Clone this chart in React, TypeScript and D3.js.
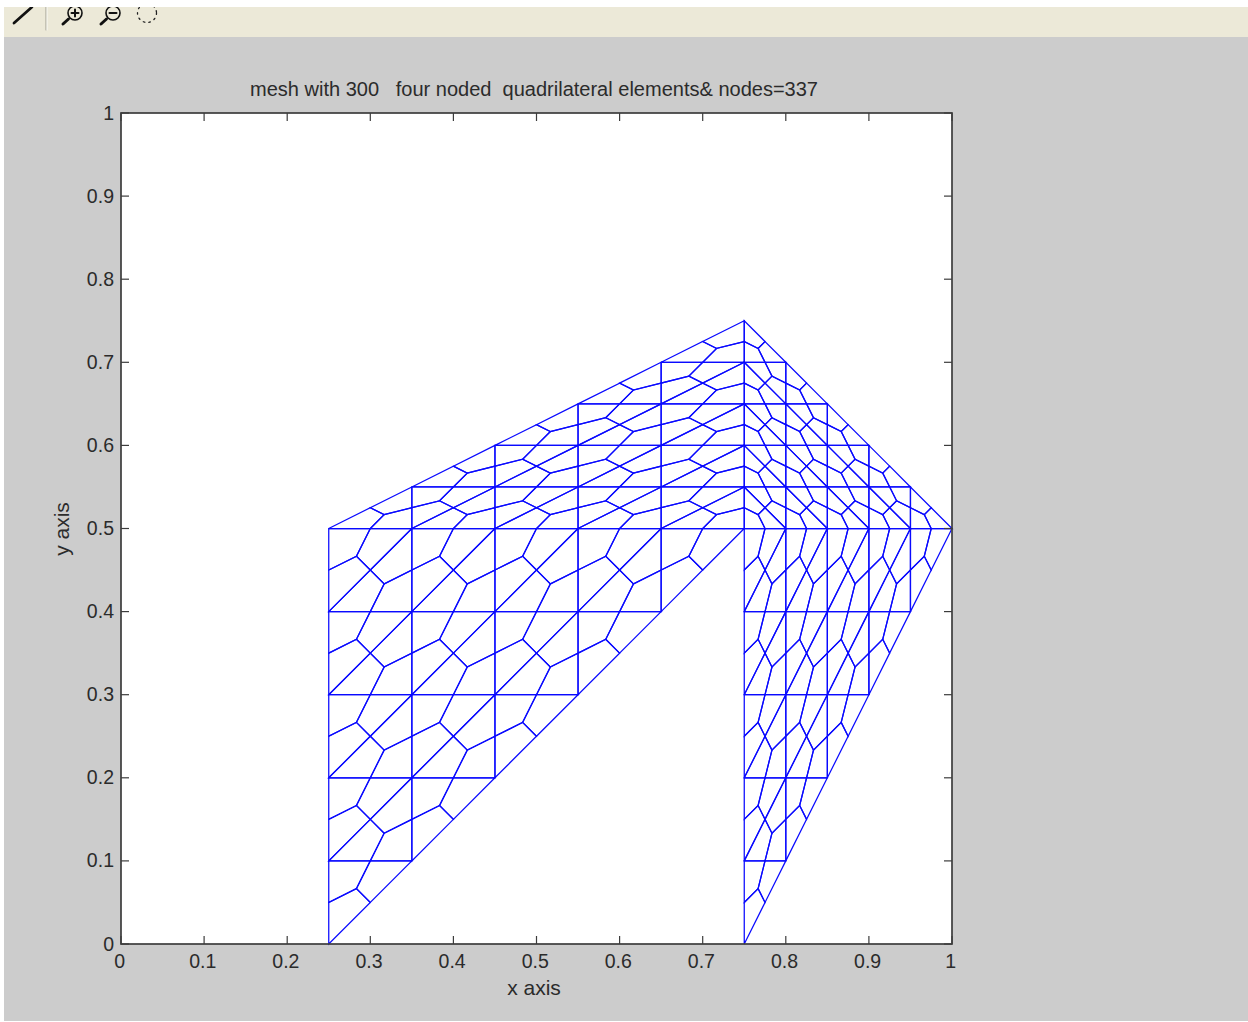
import React from "react";
import * as d3 from "d3";

type Pt = [number, number];

const titleText = "mesh with 300   four noded  quadrilateral elements& nodes=337";
const xLabel = "x axis";
const yLabel = "y axis";
const tickValues = [0, 0.1, 0.2, 0.3, 0.4, 0.5, 0.6, 0.7, 0.8, 0.9, 1];
const tickLabels = ["0", "0.1", "0.2", "0.3", "0.4", "0.5", "0.6", "0.7", "0.8", "0.9", "1"];

// The four macro triangles of the domain; each is cut into divisions^2 triangles,
// and each of those into three quadrilaterals through its centroid.
const patchLowerLeft: Pt[] = [[0.25, 0], [0.25, 0.5], [0.75, 0.5]];
const patchUpperLeft: Pt[] = [[0.25, 0.5], [0.75, 0.5], [0.75, 0.75]];
const patchUpperRight: Pt[] = [[0.75, 0.75], [0.75, 0.5], [1, 0.5]];
const patchLowerRight: Pt[] = [[0.75, 0], [0.75, 0.5], [1, 0.5]];
const patches = [patchLowerLeft, patchUpperLeft, patchUpperRight, patchLowerRight];
const divisions = 5;

const mid = (a: Pt, b: Pt): Pt => [(a[0] + b[0]) / 2, (a[1] + b[1]) / 2];

function subTriangles([a, b, c]: Pt[]): Pt[][] {
  const at = (i: number, j: number): Pt => [
    a[0] + (i / divisions) * (b[0] - a[0]) + (j / divisions) * (c[0] - a[0]),
    a[1] + (i / divisions) * (b[1] - a[1]) + (j / divisions) * (c[1] - a[1]),
  ];
  const out: Pt[][] = [];
  for (let i = 0; i < divisions; i++) {
    for (let j = 0; j < divisions - i; j++) {
      out.push([at(i, j), at(i + 1, j), at(i, j + 1)]);
      if (i + j < divisions - 1) out.push([at(i + 1, j), at(i + 1, j + 1), at(i, j + 1)]);
    }
  }
  return out;
}

function quads([a, b, c]: Pt[]): Pt[][] {
  const g: Pt = [(a[0] + b[0] + c[0]) / 3, (a[1] + b[1] + c[1]) / 3];
  const ab = mid(a, b), bc = mid(b, c), ca = mid(c, a);
  return [[a, ab, g, ca], [b, bc, g, ab], [c, ca, g, bc]];
}

const elements = patches.flatMap(subTriangles).flatMap(quads);

const FONT = '"Liberation Sans", Arial, Helvetica, sans-serif';
const TEXT = "#2b2b2b";
const AXIS = "#3c3c3c";
const TICK = 8;

export default function App() {
  const x = d3.scaleLinear().domain([0, 1]).range([121, 952]);
  const y = d3.scaleLinear().domain([0, 1]).range([944, 113]);
  const line = d3.line<Pt>().x((d) => x(d[0])).y((d) => y(d[1])).curve(d3.curveLinearClosed);
  const [x0, x1] = x.range();
  const [y0, y1] = y.range();

  return (
    <svg
      width={1248}
      height={1022}
      style={{ position: "absolute", left: 0, top: 0, background: "#fff", display: "block" }}
      fontFamily={FONT}
    >
      <rect x={4} y={37} width={1244} height={984} fill="#cccccc" />
      <rect x={4} y={7} width={1244} height={30} fill="#ece9d8" />

      {/* toolbar icons */}
      <g stroke="#111" fill="none" strokeLinecap="round">
        <path d="M14 23 L32 7" strokeWidth={2.8} />
        <path d="M46 7 L46 30" stroke="#9f9d90" strokeWidth={1} />
        <path d="M47 7 L47 30" stroke="#fff" strokeWidth={0.8} />
        <circle cx={75} cy={13} r={7} strokeWidth={1.6} fill="#ece9d8" />
        <path d="M68.5 19 L63 24" strokeWidth={3} />
        <path d="M71.5 13 L78.5 13 M75 9.5 L75 16.5" strokeWidth={2} />
        <circle cx={113} cy={13} r={7} strokeWidth={1.6} fill="#ece9d8" />
        <path d="M106.5 19 L101 24" strokeWidth={3} />
        <path d="M109.5 13 L116.5 13" strokeWidth={2} />
        <circle cx={147} cy={13} r={9.5} strokeWidth={1.3} strokeDasharray="1.5 4.2" stroke="#222" />
      </g>
      <rect x={0} y={0} width={1248} height={7} fill="#fff" />

      <rect x={x0} y={y1} width={x1 - x0} height={y0 - y1} fill="#fff" />

      <g fill="none" stroke="#0a0aff" strokeWidth={1.25}>
        {elements.map((q, i) => (
          <path key={i} d={line(q) ?? ""} />
        ))}
      </g>

      <g stroke={AXIS} strokeWidth={1.2} fill="none">
        {tickValues.map((t) => (
          <g key={t}>
            <line x1={x(t)} x2={x(t)} y1={y0} y2={y0 - TICK} />
            <line x1={x(t)} x2={x(t)} y1={y1} y2={y1 + TICK} />
            <line x1={x0} x2={x0 + TICK} y1={y(t)} y2={y(t)} />
            <line x1={x1} x2={x1 - TICK} y1={y(t)} y2={y(t)} />
          </g>
        ))}
      </g>
      <rect x={x0} y={y1} width={x1 - x0} height={y0 - y1} fill="none" stroke={AXIS} strokeWidth={1.7} />

      <g fill={TEXT} fontSize={21}>
        {tickValues.map((t, i) => (
          <text key={t} transform={`translate(${x(t) - 1.3},968) scale(0.93,1)`} textAnchor="middle">
            {tickLabels[i]}
          </text>
        ))}
        {tickValues.map((t, i) => (
          <text key={t} transform={`translate(114,${y(t) + 6.5}) scale(0.93,1)`} textAnchor="end">
            {tickLabels[i]}
          </text>
        ))}
        <text
          x={250}
          y={96}
          fontSize={20}
          xmlSpace="preserve"
          style={{ whiteSpace: "pre" }}
          textLength={568}
          lengthAdjust="spacingAndGlyphs"
        >
          {titleText}
        </text>
        <text x={534} y={995} textAnchor="middle">
          {xLabel}
        </text>
        <text transform="translate(69,529) rotate(-90)" textAnchor="middle">
          {yLabel}
        </text>
      </g>
    </svg>
  );
}
